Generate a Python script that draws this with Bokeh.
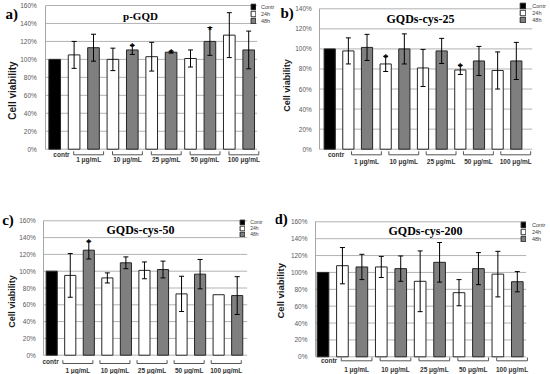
import math
from bokeh.plotting import figure
from bokeh.layouts import gridplot
from bokeh.models import (ColumnDataSource, FixedTicker, PrintfTickFormatter, Whisker, TeeHead,
                          Legend, LegendItem, Range1d)
from bokeh.embed import file_html
from bokeh.resources import INLINE
from bokeh.core.properties import value

# ---------------- data ----------------
groups = ["1 μg/mL", "10 μg/mL", "25 μg/mL", "50 μg/mL", "100 μg/mL"]
series_names = ["Contr", "24h", "48h"]
control_label = "contr"
control_value = 100
y_ticks_160 = [0, 20, 40, 60, 80, 100, 120, 140, 160]
y_ticks_140 = [0, 20, 40, 60, 80, 100, 120, 140]

a_title = "p-GQD"
a_24h = [105, 100, 103, 101, 127]
a_24h_err = [15, 12.5, 16, 9.5, 25]
a_24h_sig = [0, 0, 0, 0, 0]
a_48h = [113, 110.5, 108, 120, 110.5]
a_48h_err = [15, 5, 1, 15.5, 21]
a_48h_sig = [0, 1, 1, 1, 0]

b_title = "GQDs-cys-25"
b_24h = [98, 85, 81, 79, 78.5]
b_24h_err = [13, 7.5, 18.5, 4.5, 18.5]
b_24h_sig = [0, 1, 0, 1, 0]
b_48h = [101.5, 100, 98, 88, 88]
b_48h_err = [13, 15, 12.5, 14.5, 18.5]
b_48h_sig = [0, 0, 0, 0, 0]

c_title = "GQDs-cys-50"
c_24h = [95, 92, 101, 73, 72]
c_24h_err = [26, 6, 10, 21, 0]
c_24h_sig = [0, 0, 0, 0, 0]
c_48h = [125, 110, 102, 96.5, 71]
c_48h_err = [10.5, 7, 10, 17.5, 22.5]
c_48h_sig = [1, 0, 0, 0, 0]

d_title = "GQDs-cys-200"
d_24h = [108, 106.5, 89.5, 76, 98]
d_24h_err = [21.5, 12.5, 36, 15.5, 27]
d_24h_sig = [0, 0, 0, 0, 0]
d_48h = [106.5, 104.5, 112, 104.5, 89]
d_48h_err = [15, 15, 23.5, 19, 12]
d_48h_sig = [0, 0, 0, 0, 0]

# ---------------- styles / layout (pixel geometry of each panel) ----------------
FIG_W, FIG_H = 275, 187
SANS = "Liberation Sans"
SERIF = "Liberation Serif"
COL_CONTR, COL_24, COL_48 = "#000000", "#ffffff", "#7f7f7f"
EDGE = "#262626"
GRID = "#b3b3b3"

geoms = {
    "a": dict(x0=54.2, dx=19.4, y0=148.7, ytop=5, ymax=160, axis_px=45.3, ystand=9,
              grid_end=256.7, xaxis_py=155.8, br_shift=0.25, br_half=0.77, br_py=154.3, br_h=3.5,
              contr_shift=0.35, contr_py=154, title_px=(140, 15), title_size="11px",
              tag="a)", tag_px=(5, 13.3), ylab_px=(11.5, 90), ylab_size="10px",
              leg=(250, 163), leg_glyph=(6, 7), leg_font="5.5px", leg_stand=5),
    "b": dict(x0=54.2, dx=18.66, y0=148.7, ytop=8.3, ymax=140, axis_px=44.3, ystand=7.6,
              grid_end=256.7, xaxis_py=157, br_shift=0.47, br_half=0.8, br_py=154.3, br_h=3.5,
              contr_shift=0.34, contr_py=154.3, title_px=(145, 18.3), title_size="12px",
              tag="b)", tag_px=(5, 12.5), ylab_px=(11.7, 85), ylab_size="9px",
              leg=(244.3, 163.7), leg_glyph=(7, 7), leg_font="5.5px", leg_stand=6),
    "c": dict(x0=51.2, dx=18.55, y0=167.7, ytop=33.3, ymax=160, axis_px=43.3, ystand=8.3,
              grid_end=246.7, xaxis_py=179, br_shift=-0.09, br_half=0.81, br_py=176, br_h=3.3,
              contr_shift=-0.06, contr_py=174, title_px=(140, 42.7), title_size="12px",
              tag="c)", tag_px=(1.7, 32.5), ylab_px=(11.7, 114), ylab_size="9px",
              leg=(239.3, 137), leg_glyph=(6, 6), leg_font="5px", leg_stand=5),
    "d": dict(x0=47.5, dx=19.43, y0=169.3, ytop=34.3, ymax=160, axis_px=40, ystand=8.3,
              grid_end=250.7, xaxis_py=178, br_shift=0.23, br_half=0.79, br_py=173.3, br_h=3.3,
              contr_shift=0.31, contr_py=173.3, title_px=(150, 43.3), title_size="12px",
              tag="d)", tag_px=(-1, 31.7), ylab_px=(5, 103.3), ylab_size="9.5px",
              leg=(245, 132), leg_glyph=(6, 7), leg_font="5.5px", leg_stand=6),
}


def make_panel(key, title, v24, e24, s24, v48, e48, s48, yticks):
    g = geoms[key]
    scale = (g["y0"] - g["ytop"]) / g["ymax"]

    def X(px):
        return (px - g["x0"]) / g["dx"]

    def Y(py):
        return (g["y0"] - py) / scale

    p = figure(width=FIG_W, height=FIG_H, output_backend="svg", toolbar_location=None,
               x_range=Range1d(X(0), X(FIG_W)), y_range=Range1d(Y(FIG_H), Y(0)),
               min_border=0, min_border_left=0, min_border_right=0,
               min_border_top=0, min_border_bottom=0)
    p.outline_line_color = None
    p.background_fill_color = "white"
    p.border_fill_color = "white"
    p.xgrid.visible = False
    p.ygrid.visible = False

    n = len(groups)
    x24 = [1 + 2 * i for i in range(n)]
    x48 = [2 + 2 * i for i in range(n)]

    # horizontal gridlines at the y ticks (limited to the plot area)
    p.segment(x0=[X(g["axis_px"])] * len(yticks), y0=yticks,
              x1=[X(g["grid_end"])] * len(yticks), y1=yticks,
              line_color=GRID, line_width=1)

    rc = p.vbar(x=[0], top=[control_value], width=0.6, fill_color=COL_CONTR,
                line_color=EDGE, line_width=1)
    src24 = ColumnDataSource(dict(x=x24, top=v24))
    src48 = ColumnDataSource(dict(x=x48, top=v48))
    r24 = p.vbar(x="x", top="top", width=0.6, source=src24, fill_color=COL_24,
                 line_color=EDGE, line_width=1)
    r48 = p.vbar(x="x", top="top", width=0.6, source=src48, fill_color=COL_48,
                 line_color=EDGE, line_width=1)

    # error bars
    for xs, vs, es in ((x24, v24, e24), (x48, v48, e48)):
        keep = [i for i in range(n) if es[i] > 0]
        wsrc = ColumnDataSource(dict(
            x=[xs[i] for i in keep],
            upper=[vs[i] + es[i] for i in keep],
            lower=[vs[i] - es[i] for i in keep]))
        w = Whisker(base="x", upper="upper", lower="lower", source=wsrc,
                    line_color="black", line_width=1, level="annotation",
                    upper_head=TeeHead(size=5, line_color="black", line_width=1),
                    lower_head=TeeHead(size=5, line_color="black", line_width=1))
        p.add_layout(w)

    # significance stars
    sx, sy = [], []
    for xs, vs, es, ss in ((x24, v24, e24, s24), (x48, v48, e48, s48)):
        for i in range(n):
            if ss[i]:
                sx.append(xs[i])
                sy.append(vs[i] + es[i])
    if sx:
        p.text(x=sx, y=sy, text=["*"] * len(sx), text_font=value(SANS),
               text_font_size="10px", text_font_style="bold", text_align="center",
               text_baseline="alphabetic", y_offset=2.5, text_color="black")

    # brackets under each concentration pair
    centers = [1.5 + 2 * i + g["br_shift"] for i in range(n)]
    yb, yt = Y(g["br_py"]), Y(g["br_py"] - g["br_h"])
    bx0 = [c - g["br_half"] for c in centers]
    bx1 = [c + g["br_half"] for c in centers]
    p.segment(x0=bx0, y0=[yb] * n, x1=bx1, y1=[yb] * n, line_color="#555555", line_width=1)
    p.segment(x0=bx0 + bx1, y0=[yb] * (2 * n), x1=bx0 + bx1, y1=[yt] * (2 * n),
              line_color="#555555", line_width=1)

    # control label
    p.text(x=[0 + g["contr_shift"]], y=[Y(g["contr_py"])], text=[control_label],
           text_font=value(SANS), text_font_style="bold", text_font_size="6.5px",
           text_align="center", text_baseline="middle", text_color="#333333")

    # title
    tx, ty = g["title_px"]
    p.text(x=[X(tx)], y=[Y(ty)], text=[title], text_font=value(SERIF),
           text_font_style="bold", text_font_size=g["title_size"], text_align="center",
           text_baseline="middle", text_color="black")

    # panel tag
    gx, gy = g["tag_px"]
    p.text(x=[X(gx)], y=[Y(gy)], text=[g["tag"]], text_font=value(SERIF),
           text_font_style="bold", text_font_size="15px", text_align="left",
           text_baseline="middle", text_color="black")

    # y-axis title
    lx, ly = g["ylab_px"]
    p.text(x=[X(lx)], y=[Y(ly)], text=["Cell viability"], angle=math.pi / 2,
           text_font=value(SANS), text_font_style="bold", text_font_size=g["ylab_size"],
           text_align="center", text_baseline="middle", text_color="#1a1a1a")

    # axes (placed inside the frame at fixed data locations)
    p.xaxis.fixed_location = Y(g["xaxis_py"])
    p.xaxis.ticker = FixedTicker(ticks=centers)
    p.xaxis.major_label_overrides = {c: lab for c, lab in zip(centers, groups)}
    p.xaxis.axis_line_color = None
    p.xaxis.major_tick_line_color = None
    p.xaxis.minor_tick_line_color = None
    p.xaxis.major_tick_out = 0
    p.xaxis.major_label_standoff = 0
    p.xaxis.major_label_text_font = SANS
    p.xaxis.major_label_text_font_style = "bold"
    p.xaxis.major_label_text_font_size = "6.5px"
    p.xaxis.major_label_text_color = "#333333"

    p.yaxis.fixed_location = X(g["axis_px"])
    p.yaxis.ticker = FixedTicker(ticks=yticks)
    p.yaxis.formatter = PrintfTickFormatter(format="%d%%")
    p.yaxis.bounds = (0, g["ymax"])
    p.yaxis.axis_line_color = "#a6a6a6"
    p.yaxis.major_tick_line_color = None
    p.yaxis.minor_tick_line_color = None
    p.yaxis.major_tick_out = 0
    p.yaxis.major_label_standoff = int(round(g["ystand"]))
    p.yaxis.major_label_text_font = SANS
    p.yaxis.major_label_text_font_size = "6.5px"
    p.yaxis.major_label_text_color = "#595959"

    # legend
    gw, gh = g["leg_glyph"]
    legend = Legend(items=[LegendItem(label=series_names[0], renderers=[rc]),
                           LegendItem(label=series_names[1], renderers=[r24]),
                           LegendItem(label=series_names[2], renderers=[r48])],
                    location=g["leg"], orientation="vertical",
                    glyph_width=gw, glyph_height=gh, label_height=gh, label_width=10,
                    spacing=0, padding=0, margin=0, label_standoff=g["leg_stand"],
                    label_text_font=SANS, label_text_font_size=g["leg_font"],
                    label_text_color="#404040", border_line_alpha=0,
                    background_fill_alpha=0)
    p.add_layout(legend)
    return p


pa = make_panel("a", a_title, a_24h, a_24h_err, a_24h_sig, a_48h, a_48h_err, a_48h_sig, y_ticks_160)
pb = make_panel("b", b_title, b_24h, b_24h_err, b_24h_sig, b_48h, b_48h_err, b_48h_sig, y_ticks_140)
pc = make_panel("c", c_title, c_24h, c_24h_err, c_24h_sig, c_48h, c_48h_err, c_48h_sig, y_ticks_160)
pd = make_panel("d", d_title, d_24h, d_24h_err, d_24h_sig, d_48h, d_48h_err, d_48h_sig, y_ticks_160)

grid = gridplot([[pa, pb], [pc, pd]], toolbar_location=None)
open("out.html", "w").write(file_html(grid, INLINE))
